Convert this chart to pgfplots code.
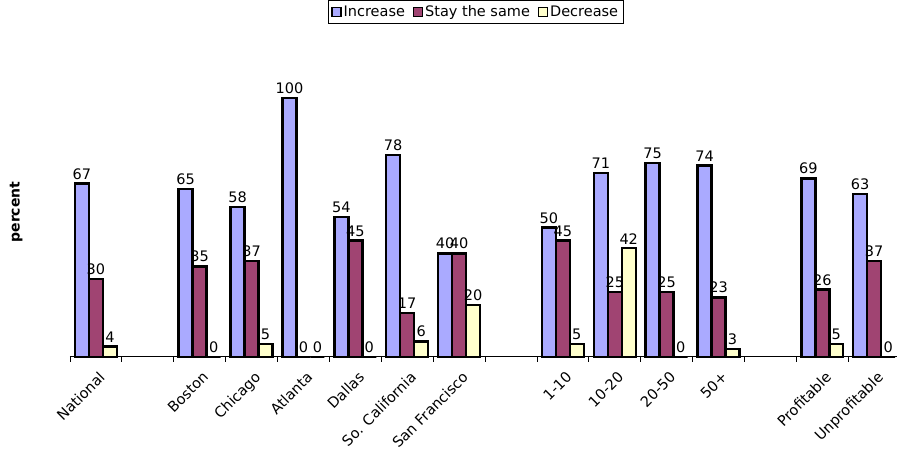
\documentclass[border=0pt]{standalone}
\usepackage{pgfplots}
\pgfplotsset{compat=1.18}
\usepackage{pgfplotstable}
\usepackage{fontspec}
\setmainfont{DejaVu Sans}
\definecolor{cinc}{RGB}{170,170,255}
\definecolor{csame}{RGB}{160,68,114}
\definecolor{cdec}{RGB}{255,255,204}
\pgfplotstableread{
x y
0 67
2 65
3 58
4 100
5 54
6 78
7 40
9 50
10 71
11 75
12 74
14 69
15 63
}\inc
\pgfplotstableread{
x y
0 30
2 35
3 37
4 0
5 45
6 17
7 40
9 45
10 25
11 25
12 23
14 26
15 37
}\same
\pgfplotstableread{
x y
0 4
2 0
3 5
4 0
5 0
6 6
7 20
9 5
10 42
11 0
12 3
14 5
15 0
}\dec
\begin{document}
\fontsize{14.5}{17}\selectfont
\begin{tikzpicture}
\begin{axis}[
  scale only axis, width=827pt, height=290pt,
  xmin=-0.5, xmax=15.43, ymin=0, ymax=112,
  ybar=0pt, bar width=14pt,
  axis x line*=bottom, axis y line=none,
  clip=false,
  xtick={0,2,3,4,5,6,7,9,10,11,12,14,15},
  xticklabels={National,Boston,Chicago,Atlanta,Dallas,So. California,San Francisco,1-10,10-20,20-50,50+,Profitable,Unprofitable},
  major tick length=0pt,
  minor xtick={-0.5,0.5,...,14.5},
  minor tick length=5pt,
  tick align=outside,
  every tick/.style={black, line width=0.8pt},
  x axis line style={line width=1pt},
  xticklabel style={rotate=45, anchor=north east, inner sep=1pt, font=\fontsize{14.5}{17}\selectfont, yshift=-10pt, xshift=-7pt},
  nodes near coords,
  nodes near coords style={font=\fontsize{14.5}{17}\selectfont, inner sep=3pt},
  /pgf/number format/assume math mode=true,
  every axis plot/.append style={draw=black, line width=2.4pt},
  legend columns=3,
  legend style={at={(axis description cs:0.491,1.19)}, anchor=center, draw=black, line width=0.8pt,
     font=\fontsize{14.5}{17}\selectfont, inner sep=3pt,
     /tikz/every even column/.append style={column sep=6pt}},
  legend image code/.code={\draw[#1, line width=1.2pt] (0pt,-4.5pt) rectangle (9pt,4.5pt);},
]
\addplot[fill=cinc] table[x=x,y=y] {\inc};
\addplot[fill=csame] table[x=x,y=y] {\same};
\addplot[fill=cdec] table[x=x,y=y] {\dec};
\legend{Increase,Stay the same,Decrease}
\node[rotate=90, inner sep=0pt, font=\bfseries\fontsize{14}{16}\selectfont] at (axis description cs:-0.065,0.5) {percent};
\path (axis description cs:-0.0846,0.5);
\end{axis}
\end{tikzpicture}
\end{document}
